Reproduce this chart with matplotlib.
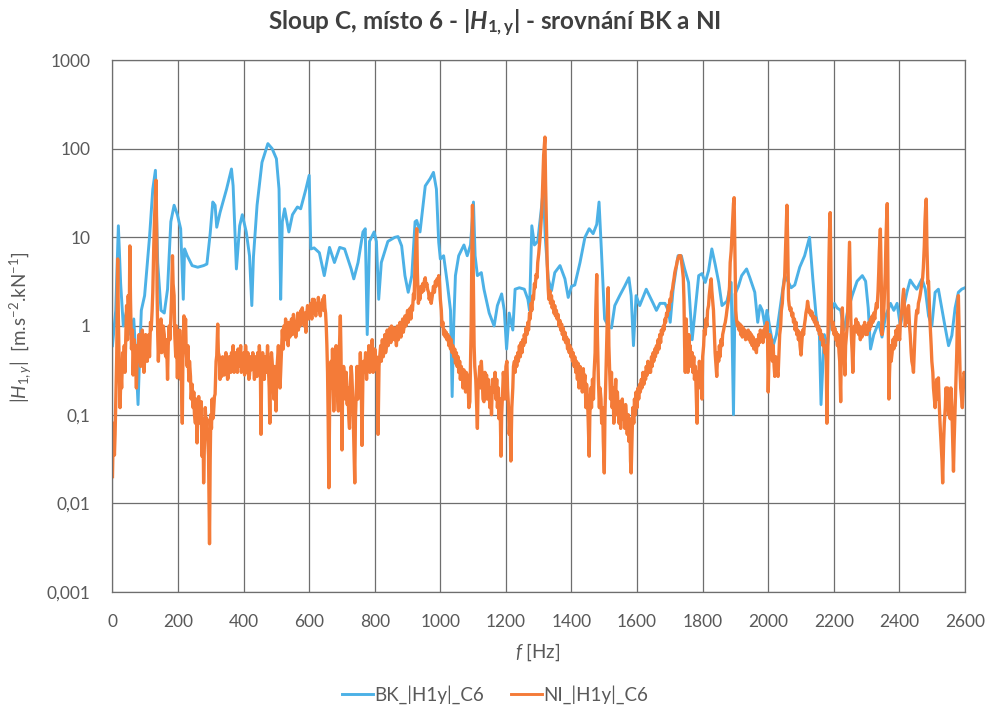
import matplotlib
matplotlib.use("Agg")
import matplotlib.pyplot as plt
from matplotlib.lines import Line2D

plt.rcParams['font.family'] = ['Lato', 'DejaVu Sans']
plt.rcParams['mathtext.fontset'] = 'custom'
plt.rcParams['mathtext.rm'] = 'Lato'
plt.rcParams['mathtext.it'] = 'Lato:italic'
plt.rcParams['mathtext.bf'] = 'Lato:bold'
plt.rcParams['mathtext.bfit'] = 'Lato:italic:bold'

# BK measurement: (frequency [Hz], |H1y|)
bk_points = [
    (0, 0.6), (10, 1.5), (18, 13.5), (25, 3), (33, 1), (45, 1.6), (55, 0.8), (65, 1.2),
    (72, 0.4), (78, 0.13), (84, 0.6), (88, 1.5), (98, 2.2), (113, 10), (123, 35), (131, 57),
    (138, 5.2), (148, 1.5), (158, 1.4), (168, 2.6), (178, 15), (188, 23), (198, 18), (208, 12.5),
    (216, 2), (220, 7.4), (228, 6.2), (243, 4.8), (260, 4.6), (278, 4.8), (288, 5), (298, 11),
    (306, 25), (313, 23), (318, 13), (328, 19), (348, 35), (363, 59), (368, 38), (378, 4.4),
    (388, 13.5), (396, 18), (408, 11.5), (418, 6.2), (425, 1.7), (430, 6), (441, 23), (456, 70),
    (474, 114), (487, 100), (500, 77), (508, 35), (513, 2), (518, 15), (525, 21), (538, 11.5),
    (549, 18), (564, 22), (574, 21), (590, 35), (600, 50), (605, 7.4), (615, 7.6), (631, 6.7),
    (646, 3.7), (662, 7.7), (677, 5.2), (693, 7.7), (708, 7.4), (728, 4.4), (736, 3.4), (749, 5.2),
    (764, 11.5), (771, 12.5), (777, 0.8), (784, 9), (798, 11.5), (805, 9), (812, 2), (820, 5.2),
    (840, 9), (861, 10), (871, 10.2), (882, 8), (892, 3.7), (902, 2.4), (913, 3.7), (923, 15),
    (928, 15.5), (938, 11.5), (954, 38), (969, 46), (979, 54), (988, 35), (995, 8.8), (1000, 5.7),
    (1010, 6.2), (1021, 3.1), (1031, 1.5), (1036, 0.16), (1041, 1.1), (1046, 3.7), (1056, 6.2),
    (1072, 8.2), (1082, 6.2), (1092, 8.2), (1101, 25), (1106, 6.2), (1113, 3.7), (1125, 4),
    (1133, 2.6), (1149, 1.4), (1164, 1), (1174, 1.7), (1187, 2.3), (1195, 1.5), (1202, 0.55),
    (1210, 1.4), (1221, 0.9), (1228, 2.6), (1241, 2.7), (1256, 2.6), (1267, 2), (1272, 1.5),
    (1279, 13.5), (1287, 8.2), (1297, 9), (1308, 21), (1314, 35), (1320, 10), (1329, 3.4),
    (1339, 2.5), (1349, 4), (1365, 4.8), (1380, 3.4), (1390, 2.1), (1400, 2.8), (1410, 2.9),
    (1426, 5.2), (1441, 10), (1454, 12.5), (1466, 11), (1477, 14), (1484, 25), (1491, 7.4),
    (1501, 1.2), (1512, 1.0), (1522, 0.95), (1532, 1.7), (1547, 2.2), (1562, 2.8), (1575, 3.5),
    (1582, 2.2), (1589, 0.6), (1597, 2.2), (1608, 1.7), (1628, 2.6), (1649, 1.8), (1659, 1.5),
    (1670, 1.8), (1685, 1.8), (1695, 1.5), (1701, 1.1), (1710, 2.6), (1725, 6.2), (1735, 6.2),
    (1745, 4.4), (1757, 3.1), (1768, 0.7), (1778, 1.6), (1788, 3.7), (1798, 3.9), (1808, 3.1),
    (1818, 4.2), (1828, 7.4), (1838, 5), (1849, 3.1), (1859, 1.7), (1874, 1.9), (1887, 3.1),
    (1894, 0.1), (1899, 2.3), (1909, 2.8), (1919, 3.7), (1934, 4.4), (1944, 3.5), (1959, 2.4),
    (1968, 1.1), (1975, 1.7), (1982, 1.5), (1990, 1.0), (1996, 1.5), (2005, 0.95), (2015, 0.6),
    (2025, 0.8), (2040, 2), (2050, 3.7), (2062, 3.1), (2070, 2.7), (2081, 2.9), (2096, 4.6),
    (2111, 6.2), (2126, 10), (2136, 3.4), (2146, 1.3), (2156, 0.8), (2161, 0.13), (2171, 0.8),
    (2181, 0.6), (2192, 1.5), (2202, 1.8), (2210, 1.6), (2221, 1.5), (2231, 0.9), (2241, 1.4),
    (2256, 2.2), (2271, 3.2), (2287, 3.7), (2297, 3.2), (2305, 1.6), (2312, 0.55), (2322, 0.8),
    (2337, 1.1), (2347, 0.75), (2358, 1.3), (2373, 1.8), (2383, 1.5), (2393, 1.8), (2403, 1.0),
    (2413, 1.6), (2423, 2.4), (2433, 3.3), (2443, 2.9), (2453, 2.6), (2469, 3.4), (2479, 2.6),
    (2489, 1.3), (2499, 1.0), (2509, 2.4), (2519, 2.6), (2529, 1.6), (2540, 0.95), (2550, 0.6),
    (2560, 0.78), (2570, 1.6), (2580, 2.4), (2590, 2.6), (2600, 2.7),
]

# NI measurement: (frequency [Hz], |H1y|)
ni_points = [
    (0, 0.02), (3, 0.08), (6, 0.035), (8, 0.06), (11, 0.2), (13, 0.46), (16, 5.7), (18, 1.2),
    (20, 0.46), (23, 0.12), (26, 0.3), (28, 0.2), (31, 0.5), (33, 0.35), (36, 0.6), (38, 0.3),
    (41, 0.9), (43, 1.7), (46, 0.7), (48, 2.2), (51, 1.0), (53, 8), (55, 2.0), (58, 0.55),
    (61, 0.9), (63, 0.28), (66, 0.7), (68, 0.6), (71, 0.35), (73, 0.2), (76, 0.6), (78, 0.4),
    (81, 0.8), (83, 0.55), (86, 0.35), (88, 0.5), (91, 0.9), (93, 0.6), (96, 0.3), (98, 0.4),
    (101, 0.8), (103, 0.6), (106, 0.4), (108, 0.55), (111, 0.8), (113, 0.45), (116, 1.1),
    (118, 0.9), (121, 1.5), (123, 2.4), (126, 8), (128, 15), (131, 30), (133, 44), (135, 10),
    (136, 2.5), (138, 0.8), (140, 0.4), (143, 0.9), (146, 0.7), (148, 1.2), (150, 0.5),
    (153, 0.6), (155, 1.0), (158, 0.8), (160, 0.5), (163, 0.45), (165, 0.7), (168, 0.25),
    (170, 0.6), (173, 1.0), (175, 0.7), (178, 1.2), (180, 2.0), (183, 6.2), (185, 3), (188, 2.2),
    (190, 0.8), (193, 0.45), (195, 1.0), (198, 0.26), (200, 0.6), (203, 0.35), (205, 0.9),
    (208, 0.25), (210, 0.3), (213, 0.08), (215, 0.5), (218, 1.3), (220, 0.7), (223, 1.2),
    (225, 0.5), (228, 0.35), (230, 0.6), (233, 0.24), (235, 0.4), (238, 0.27), (240, 0.15),
    (243, 0.22), (246, 0.12), (248, 0.18), (250, 0.1), (253, 0.08), (256, 0.15), (258, 0.048),
    (261, 0.12), (263, 0.16), (266, 0.1), (268, 0.08), (271, 0.14), (273, 0.034), (276, 0.09),
    (278, 0.017), (281, 0.06), (283, 0.12), (286, 0.07), (288, 0.09), (291, 0.05), (293, 0.034),
    (296, 0.0035), (298, 0.03), (300, 0.1), (302, 0.07), (304, 0.15), (306, 0.09), (308, 0.1),
    (311, 0.16), (313, 0.17), (316, 0.4), (318, 0.46), (321, 1.05), (323, 0.5), (326, 0.45),
    (328, 0.25), (331, 0.4), (333, 0.27), (336, 0.45), (338, 0.38), (341, 0.28), (343, 0.32),
    (346, 0.5), (348, 0.4), (351, 0.25), (353, 0.26), (356, 0.45), (358, 0.38), (361, 0.3),
    (363, 0.5), (366, 0.35), (368, 0.6), (371, 0.3), (373, 0.32), (376, 0.5), (378, 0.4),
    (381, 0.3), (383, 0.55), (386, 0.35), (388, 0.42), (391, 0.6), (393, 0.3), (396, 0.4),
    (398, 0.33), (401, 0.5), (403, 0.28), (406, 0.6), (408, 0.45), (411, 0.3), (413, 0.5),
    (416, 0.25), (418, 0.28), (421, 0.45), (423, 0.32), (426, 0.38), (428, 0.5), (431, 0.35),
    (433, 0.25), (436, 0.45), (438, 0.3), (441, 0.27), (443, 0.5), (446, 0.35), (448, 0.6),
    (451, 0.35), (453, 0.06), (455, 0.3), (458, 0.5), (461, 0.35), (463, 0.25), (466, 0.45),
    (468, 0.3), (471, 0.4), (473, 0.6), (476, 0.3), (478, 0.2), (480, 0.08), (482, 0.3),
    (485, 0.5), (487, 0.4), (490, 0.25), (492, 0.15), (495, 0.35), (497, 0.3), (499, 0.11),
    (501, 0.3), (504, 0.45), (506, 0.6), (508, 0.4), (511, 0.2), (513, 0.3), (516, 0.6),
    (518, 0.9), (521, 0.55), (523, 1.0), (526, 0.7), (528, 1.2), (531, 0.8), (533, 0.95),
    (536, 0.6), (538, 1.1), (541, 0.75), (544, 0.9), (546, 1.2), (549, 0.8), (552, 1.35),
    (555, 0.9), (557, 1.1), (559, 0.75), (562, 1.0), (565, 1.4), (567, 0.9), (570, 1.2),
    (572, 1.0), (575, 1.5), (577, 1.1), (579, 1.6), (582, 1.2), (585, 1.0), (587, 1.4),
    (590, 0.85), (592, 1.3), (595, 1.7), (598, 1.2), (600, 1.6), (603, 1.3), (605, 1.8),
    (608, 1.2), (610, 2.0), (613, 1.4), (615, 2.0), (618, 1.6), (620, 1.3), (623, 1.8),
    (626, 1.5), (628, 2.1), (631, 1.5), (634, 1.3), (636, 1.8), (639, 1.6), (641, 2.0),
    (644, 1.5), (646, 2.2), (648, 1.6), (650, 1.4), (652, 1.0), (654, 0.6), (656, 0.3),
    (658, 0.08), (660, 0.015), (662, 0.09), (664, 0.3), (667, 0.4), (669, 0.2), (671, 0.55),
    (673, 0.25), (675, 0.11), (678, 0.3), (680, 0.45), (682, 0.6), (685, 0.25), (687, 0.15),
    (689, 0.11), (691, 0.4), (693, 0.7), (695, 1.3), (697, 0.5), (700, 0.04), (702, 0.2),
    (705, 0.35), (708, 0.27), (710, 0.15), (713, 0.3), (716, 0.13), (718, 0.2), (721, 0.09),
    (723, 0.07), (725, 0.2), (728, 0.35), (730, 0.28), (733, 0.15), (736, 0.05), (739, 0.017),
    (741, 0.09), (744, 0.2), (746, 0.35), (749, 0.15), (751, 0.3), (754, 0.27), (756, 0.5),
    (759, 0.2), (761, 0.045), (764, 0.3), (766, 0.4), (769, 0.3), (772, 0.5), (775, 0.25),
    (777, 0.45), (780, 0.35), (782, 0.6), (785, 0.3), (787, 0.5), (790, 0.4), (792, 0.7),
    (795, 0.3), (798, 0.32), (800, 0.55), (803, 0.4), (805, 0.45), (808, 0.3), (810, 0.06),
    (813, 0.35), (815, 0.45), (818, 0.6), (820, 0.4), (823, 0.7), (826, 0.45), (828, 0.55),
    (831, 0.8), (833, 0.5), (836, 0.6), (838, 0.9), (841, 0.6), (843, 0.75), (846, 0.95),
    (849, 0.65), (851, 1.0), (854, 0.7), (856, 0.75), (859, 0.95), (861, 0.7), (864, 0.8),
    (866, 0.6), (869, 1.0), (872, 0.7), (874, 0.85), (877, 1.1), (880, 0.75), (882, 0.9),
    (885, 1.2), (887, 0.85), (890, 1.0), (892, 1.3), (895, 1.0), (897, 1.2), (900, 1.5),
    (902, 1.1), (905, 1.3), (908, 1.6), (910, 1.2), (913, 1.7), (915, 1.5), (918, 2.3),
    (920, 2.0), (923, 5.2), (926, 9), (928, 12.5), (930, 4), (933, 1.8), (936, 2.2), (938, 2.0),
    (941, 2.8), (944, 2.4), (946, 3.0), (949, 2.5), (951, 3.2), (954, 3.5), (956, 2.8),
    (959, 3.0), (961, 2.6), (964, 2.4), (966, 2.0), (969, 2.3), (972, 1.8), (974, 2.0),
    (977, 2.4), (979, 2.8), (982, 2.4), (985, 3.2), (987, 2.8), (990, 3.4), (992, 3.0),
    (995, 3.7), (997, 3.3), (1000, 2.0), (1003, 1.5), (1005, 1.0), (1008, 1.1), (1010, 0.8),
    (1013, 0.9), (1015, 0.75), (1018, 0.85), (1020, 0.7), (1023, 0.8), (1026, 0.6), (1028, 0.75),
    (1031, 0.55), (1033, 0.7), (1036, 0.5), (1038, 0.6), (1041, 0.45), (1044, 0.55), (1046, 0.38),
    (1049, 0.5), (1051, 0.35), (1054, 0.45), (1056, 0.3), (1059, 0.4), (1061, 0.25), (1064, 0.35),
    (1067, 0.3), (1069, 0.2), (1072, 0.32), (1074, 0.25), (1077, 0.18), (1079, 0.3), (1082, 0.28),
    (1085, 0.2), (1087, 0.12), (1090, 0.14), (1092, 0.4), (1094, 1.0), (1096, 6), (1098, 23),
    (1100, 5), (1103, 0.6), (1105, 0.35), (1108, 0.25), (1110, 0.15), (1113, 0.07), (1115, 0.2),
    (1118, 0.25), (1120, 0.35), (1123, 0.2), (1125, 0.4), (1128, 0.25), (1130, 0.15), (1133, 0.14),
    (1136, 0.3), (1138, 0.22), (1141, 0.28), (1143, 0.15), (1146, 0.25), (1149, 0.18), (1151, 0.12),
    (1154, 0.2), (1156, 0.1), (1159, 0.25), (1161, 0.18), (1164, 0.2), (1167, 0.3), (1169, 0.15),
    (1172, 0.25), (1174, 0.12), (1177, 0.2), (1179, 0.09), (1182, 0.15), (1185, 0.034), (1187, 0.1),
    (1190, 0.18), (1192, 0.3), (1195, 0.22), (1197, 0.15), (1200, 0.35), (1203, 0.4), (1205, 0.2),
    (1208, 0.12), (1210, 0.06), (1213, 0.1), (1215, 0.03), (1218, 0.12), (1221, 0.2), (1223, 0.35),
    (1226, 0.4), (1228, 0.3), (1231, 0.45), (1233, 0.35), (1236, 0.5), (1238, 0.4), (1241, 0.6),
    (1244, 0.45), (1246, 0.65), (1249, 0.5), (1251, 0.7), (1254, 0.6), (1256, 0.8), (1259, 0.65),
    (1261, 0.95), (1264, 0.8), (1267, 1.1), (1269, 0.9), (1272, 1.4), (1274, 1.2), (1277, 1.8),
    (1279, 1.5), (1282, 2.2), (1284, 2.0), (1287, 3.0), (1289, 2.7), (1292, 3.8), (1295, 3.5),
    (1297, 5.2), (1300, 6.5), (1303, 9), (1305, 11), (1308, 17), (1310, 22), (1313, 50),
    (1315, 84), (1319, 135), (1321, 40), (1324, 12), (1326, 5), (1329, 2.6), (1331, 2.0),
    (1334, 2.5), (1336, 1.8), (1339, 2.2), (1341, 1.6), (1344, 1.9), (1346, 1.4), (1349, 1.7),
    (1351, 1.3), (1354, 1.5), (1356, 1.2), (1359, 1.35), (1362, 1.0), (1365, 1.15), (1367, 0.9),
    (1370, 1.05), (1372, 0.8), (1375, 0.95), (1377, 0.7), (1380, 0.85), (1382, 0.65), (1385, 0.75),
    (1388, 0.55), (1390, 0.7), (1393, 0.5), (1395, 0.6), (1398, 0.45), (1400, 0.55), (1403, 0.4),
    (1405, 0.5), (1408, 0.35), (1410, 0.45), (1413, 0.3), (1415, 0.4), (1418, 0.25), (1420, 0.38),
    (1423, 0.2), (1426, 0.35), (1428, 0.25), (1431, 0.3), (1433, 0.18), (1436, 0.33), (1438, 0.22),
    (1441, 0.28), (1444, 0.12), (1446, 0.22), (1449, 0.15), (1451, 0.08), (1454, 0.034), (1456, 0.1),
    (1459, 0.2), (1461, 0.12), (1464, 0.25), (1467, 0.15), (1469, 0.3), (1472, 0.5), (1474, 1.5),
    (1477, 3.8), (1479, 0.8), (1482, 0.25), (1485, 0.12), (1487, 0.2), (1490, 0.15), (1492, 0.08),
    (1495, 0.12), (1497, 0.05), (1500, 0.022), (1502, 0.1), (1505, 0.3), (1508, 0.8), (1510, 1.6),
    (1512, 2.7), (1514, 0.6), (1517, 0.25), (1519, 0.15), (1522, 0.3), (1524, 0.12), (1527, 0.2),
    (1529, 0.08), (1532, 0.15), (1535, 0.25), (1537, 0.1), (1540, 0.18), (1542, 0.12), (1545, 0.08),
    (1547, 0.14), (1550, 0.07), (1552, 0.1), (1555, 0.15), (1557, 0.09), (1560, 0.12), (1563, 0.07),
    (1565, 0.13), (1568, 0.09), (1570, 0.06), (1573, 0.1), (1575, 0.05), (1578, 0.09), (1580, 0.03),
    (1582, 0.022), (1585, 0.06), (1587, 0.12), (1590, 0.08), (1592, 0.15), (1595, 0.1), (1597, 0.18),
    (1600, 0.12), (1603, 0.2), (1605, 0.15), (1608, 0.22), (1610, 0.18), (1613, 0.25), (1615, 0.2),
    (1618, 0.3), (1621, 0.22), (1623, 0.3), (1626, 0.25), (1628, 0.35), (1631, 0.28), (1633, 0.4),
    (1636, 0.3), (1639, 0.38), (1641, 0.3), (1644, 0.45), (1646, 0.35), (1649, 0.5), (1651, 0.4),
    (1654, 0.55), (1656, 0.45), (1659, 0.6), (1662, 0.5), (1664, 0.7), (1667, 0.55), (1669, 0.8),
    (1672, 0.65), (1674, 0.9), (1677, 0.8), (1680, 1.0), (1682, 0.9), (1685, 1.2), (1687, 1.1),
    (1690, 1.4), (1692, 1.3), (1695, 1.7), (1697, 1.5), (1700, 2.0), (1703, 1.9), (1705, 2.4),
    (1708, 2.6), (1710, 3.0), (1713, 3.5), (1715, 4.0), (1718, 4.5), (1720, 4.8), (1723, 5.5),
    (1725, 5.8), (1728, 6.2), (1730, 6.0), (1733, 6.2), (1735, 5.5), (1738, 4.5), (1741, 3.5),
    (1743, 2.0), (1745, 0.6), (1747, 0.3), (1750, 1.2), (1752, 0.5), (1755, 0.3), (1758, 0.8),
    (1760, 0.45), (1762, 0.6), (1765, 0.35), (1768, 0.5), (1770, 0.3), (1773, 0.45), (1775, 0.25),
    (1778, 0.35), (1780, 0.2), (1783, 0.08), (1785, 0.3), (1788, 0.2), (1790, 0.4), (1793, 0.25),
    (1795, 0.35), (1798, 0.15), (1800, 0.45), (1803, 0.6), (1805, 0.9), (1808, 0.8), (1810, 1.2),
    (1813, 1.0), (1815, 1.5), (1818, 1.7), (1820, 2.2), (1823, 2.8), (1826, 3.4), (1828, 2.5),
    (1831, 1.8), (1833, 1.5), (1836, 0.8), (1838, 0.5), (1841, 0.35), (1843, 0.27), (1846, 0.5),
    (1849, 0.4), (1851, 0.6), (1853, 0.45), (1856, 0.7), (1859, 0.6), (1861, 0.8), (1864, 0.9),
    (1866, 1.0), (1869, 1.1), (1872, 1.3), (1874, 1.5), (1877, 1.8), (1879, 2.0), (1882, 2.8),
    (1884, 5.2), (1887, 7), (1889, 10), (1892, 18), (1894, 24), (1896, 28), (1898, 8), (1901, 1.5),
    (1903, 1.2), (1906, 1.0), (1908, 1.1), (1911, 0.9), (1914, 1.05), (1916, 0.8), (1919, 1.0),
    (1921, 0.75), (1924, 0.95), (1926, 0.8), (1929, 0.9), (1931, 0.7), (1934, 0.85), (1936, 0.75),
    (1939, 0.9), (1941, 0.7), (1944, 0.85), (1946, 0.65), (1949, 0.8), (1951, 0.6), (1954, 0.75),
    (1956, 0.55), (1959, 0.7), (1961, 0.6), (1964, 0.5), (1966, 0.7), (1969, 0.6), (1971, 0.8),
    (1974, 0.65), (1976, 0.9), (1979, 0.7), (1981, 0.85), (1984, 0.65), (1986, 0.9), (1989, 0.75),
    (1991, 1.0), (1994, 0.85), (1996, 1.1), (1998, 0.7), (2000, 0.18), (2002, 0.4), (2005, 0.8),
    (2008, 0.5), (2010, 0.7), (2013, 0.4), (2015, 0.6), (2018, 0.35), (2020, 0.27), (2023, 0.45),
    (2025, 0.35), (2028, 0.3), (2030, 0.27), (2033, 0.5), (2035, 0.8), (2038, 1.0), (2040, 1.5),
    (2043, 1.8), (2045, 2.5), (2048, 3.0), (2050, 3.5), (2053, 8), (2055, 15), (2057, 23),
    (2059, 10), (2062, 2.0), (2064, 1.7), (2067, 1.5), (2069, 1.6), (2072, 1.3), (2075, 1.4),
    (2077, 1.1), (2080, 1.2), (2082, 0.9), (2085, 1.1), (2087, 0.8), (2090, 0.9), (2092, 0.7),
    (2095, 0.85), (2097, 0.6), (2100, 0.47), (2103, 0.7), (2105, 0.9), (2108, 0.8), (2110, 1.0),
    (2113, 1.2), (2115, 1.4), (2118, 1.6), (2120, 1.9), (2123, 1.6), (2126, 1.4), (2128, 1.5),
    (2131, 1.3), (2133, 1.45), (2136, 1.2), (2138, 1.3), (2141, 1.1), (2143, 1.25), (2146, 1.0),
    (2149, 1.1), (2151, 0.9), (2154, 1.0), (2156, 0.8), (2159, 0.9), (2161, 0.7), (2164, 0.8),
    (2167, 0.6), (2169, 0.7), (2172, 0.5), (2174, 0.6), (2177, 0.4), (2179, 0.08), (2181, 0.3),
    (2183, 1.0), (2185, 5), (2187, 12), (2189, 19), (2191, 5), (2193, 1.2), (2196, 0.9),
    (2198, 1.1), (2201, 0.8), (2203, 0.95), (2206, 0.7), (2208, 0.85), (2211, 0.6), (2213, 0.8),
    (2216, 0.5), (2218, 0.4), (2221, 0.14), (2223, 0.6), (2226, 1.6), (2228, 1.0), (2231, 0.5),
    (2234, 0.28), (2236, 0.6), (2239, 0.8), (2241, 1.0), (2244, 2.5), (2246, 5), (2248, 8.8),
    (2250, 3), (2252, 1.2), (2254, 0.7), (2256, 0.5), (2258, 0.3), (2261, 0.7), (2263, 1.0),
    (2266, 0.9), (2268, 1.2), (2271, 0.85), (2273, 1.1), (2276, 0.8), (2278, 1.0), (2281, 0.7),
    (2283, 0.9), (2286, 0.75), (2289, 1.0), (2292, 0.9), (2294, 1.1), (2297, 0.8), (2299, 1.0),
    (2302, 0.8), (2304, 0.95), (2307, 1.1), (2309, 0.9), (2312, 1.2), (2314, 1.0), (2317, 1.3),
    (2319, 1.1), (2322, 1.4), (2325, 1.2), (2327, 1.5), (2330, 1.8), (2332, 1.6), (2335, 2.5),
    (2337, 4), (2339, 7), (2342, 12.4), (2344, 5), (2347, 0.8), (2349, 1.1), (2352, 1.3),
    (2354, 2.0), (2357, 4), (2359, 9), (2361, 16), (2363, 24), (2365, 4), (2368, 0.15),
    (2370, 0.3), (2373, 0.6), (2375, 0.4), (2378, 0.5), (2380, 0.7), (2383, 0.55), (2385, 0.75),
    (2388, 0.6), (2390, 0.9), (2393, 0.7), (2395, 1.0), (2398, 0.8), (2401, 0.7), (2403, 1.1),
    (2406, 1.4), (2408, 1.6), (2411, 2.2), (2413, 2.6), (2416, 1.5), (2418, 1.0), (2421, 1.3),
    (2423, 1.1), (2426, 1.6), (2428, 1.7), (2431, 1.0), (2433, 0.8), (2436, 0.5), (2438, 0.4),
    (2441, 0.35), (2443, 0.3), (2446, 0.6), (2448, 0.9), (2451, 1.3), (2453, 1.5), (2456, 1.4),
    (2458, 1.8), (2461, 2.0), (2463, 2.2), (2466, 2.6), (2468, 3.0), (2471, 3.5), (2473, 4.5),
    (2476, 8), (2478, 15), (2480, 22), (2482, 27), (2484, 8), (2487, 3), (2489, 3.2), (2492, 1.5),
    (2494, 1.0), (2497, 0.6), (2499, 0.4), (2502, 0.3), (2504, 0.2), (2507, 0.15), (2509, 0.12),
    (2512, 0.2), (2514, 0.25), (2517, 0.15), (2519, 0.26), (2522, 0.12), (2524, 0.08), (2527, 0.05),
    (2530, 0.03), (2532, 0.017), (2535, 0.05), (2537, 0.08), (2540, 0.12), (2542, 0.2), (2545, 0.14),
    (2547, 0.2), (2550, 0.1), (2552, 0.15), (2555, 0.09), (2557, 0.2), (2560, 0.12), (2562, 0.06),
    (2565, 0.023), (2567, 0.05), (2570, 0.12), (2572, 0.2), (2575, 0.5), (2577, 1.2), (2580, 2.2),
    (2582, 1.0), (2585, 0.3), (2587, 0.2), (2590, 0.15), (2592, 0.12), (2595, 0.2), (2597, 0.3),
    (2600, 0.28),
]

x_ticks = list(range(0, 2601, 200))
y_ticks = [0.001, 0.01, 0.1, 1, 10, 100, 1000]
y_tick_labels = ['0,001', '0,01', '0,1', '1', '10', '100', '1000']

bk_f, bk_v = zip(*bk_points)
ni_f, ni_v = zip(*ni_points)

BLUE = '#4cb1e6'
ORANGE = '#f47b38'
GRID = '#6e6e6e'
TXT = '#595959'

fig = plt.figure(figsize=(9.9, 7.06), dpi=100)
ax = fig.add_axes([0.1136, 0.1615, 0.8611, 0.7535])

ax.plot(bk_f, bk_v, color=BLUE, linewidth=2.1, solid_joinstyle='round')
ax.plot(ni_f, ni_v, color=ORANGE, linewidth=2.4, solid_joinstyle='round')

ax.set_yscale('log')
ax.set_xlim(0, 2600)
ax.set_ylim(0.001, 1000)
ax.set_xticks(x_ticks)
ax.set_xticklabels([str(t) for t in x_ticks])
ax.set_yticks(y_ticks)
ax.set_yticklabels(y_tick_labels)
ax.minorticks_off()
ax.tick_params(axis='both', length=0, labelsize=12.5, labelcolor=TXT)
ax.tick_params(axis='x', pad=16)
ax.tick_params(axis='y', pad=16)

ax.grid(True, color=GRID, linewidth=0.9)
ax.set_axisbelow(True)
for s in ax.spines.values():
    s.set_color(GRID)
    s.set_linewidth(0.9)

fig.text(0.5, 0.968, r'Sloup C, místo 6 - |$\mathbfit{H}_{\mathbf{1,y}}$| - srovnání BK a NI',
         ha='center', va='center', fontsize=17.5, fontweight='bold', color='#3f3f3f')
fig.text(0.5436, 0.0765, r'$f$ [Hz]', ha='center', va='center', fontsize=13.5, color=TXT)
fig.text(0.021, 0.537, r'|$H_{1,y}$|  [m.s$^{-2}$.kN$^{-1}$]', ha='center', va='center',
         rotation=90, fontsize=13.5, color=TXT)

handles = [Line2D([], [], color=BLUE, linewidth=2.1),
           Line2D([], [], color=ORANGE, linewidth=2.1)]
fig.legend(handles, ['BK_|H1y|_C6', 'NI_|H1y|_C6'], loc='center', bbox_to_anchor=(0.5, 0.016),
           ncol=2, frameon=False, fontsize=13.5, labelcolor=TXT, handlelength=1.65,
           handletextpad=0.1, columnspacing=1.4)

fig.savefig('out.png', dpi=100)
